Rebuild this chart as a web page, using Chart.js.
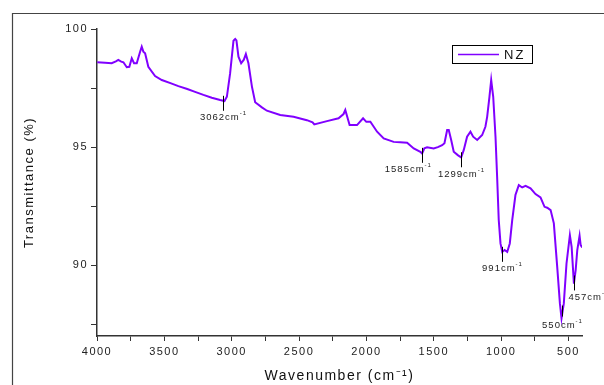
<!DOCTYPE html>
<html><head><meta charset="utf-8">
<script src="https://cdn.jsdelivr.net/npm/chart.js@4"></script>
<style>
html,body{margin:0;padding:0;background:#fff;}
#wrap{position:relative;width:604px;height:385px;overflow:hidden;}
canvas{position:absolute;left:0;top:0;}
</style></head><body>
<div id="wrap"><canvas id="c" width="604" height="385"></canvas></div>
<script>
const wavenumbers = [3998,3940,3891,3860,3842,3820,3804,3779,3760,3742,3725,3705,3680,3668,3656,3643,3619,3569,3519,3450,3396,3330,3272,3210,3148,3086,3054,3036,3012,2987,2974,2965,2950,2930,2910,2895,2876,2850,2826,2776,2739,2640,2541,2442,2400,2387,2293,2207,2170,2157,2125,2070,2025,2001,1971,1921,1872,1798,1750,1698,1649,1600,1587,1570,1550,1501,1470,1438,1421,1401,1389,1371,1352,1322,1297,1278,1253,1228,1208,1178,1141,1117,1104,1087,1074,1059,1042,1030,1018,1005,992,975,955,936,918,894,869,844,819,782,745,708,678,658,633,609,584,564,552,535,515,490,477,460,447,435,418,410,398];
const transmittance = [98.59,98.57,98.55,98.63,98.69,98.62,98.59,98.38,98.40,98.76,98.55,98.55,99.04,99.25,99.04,98.97,98.40,98.01,97.84,97.70,97.58,97.46,97.34,97.21,97.09,96.99,96.95,97.13,98.12,99.50,99.58,99.52,98.83,98.55,98.70,98.94,98.55,97.56,96.90,96.68,96.54,96.36,96.28,96.14,96.05,95.96,96.10,96.22,96.40,96.57,95.93,95.93,96.22,96.07,96.07,95.65,95.37,95.22,95.20,95.18,94.94,94.80,94.73,94.95,94.99,94.94,95.00,95.08,95.16,95.72,95.72,95.30,94.80,94.66,94.56,94.87,95.44,95.65,95.44,95.30,95.51,95.86,96.28,97.13,97.84,97.13,95.44,93.74,91.91,90.92,90.56,90.64,90.56,90.92,91.91,92.97,93.39,93.29,93.36,93.25,93.01,92.87,92.47,92.43,92.33,91.77,89.93,88.38,87.75,88.38,90.07,91.27,90.78,89.22,89.79,90.64,91.24,90.85,90.75];
const seriesName = 'NZ';
const xTickValues = [4000,3750,3500,3250,3000,2750,2500,2250,2000,1750,1500,1250,1000,750,500];
const xTickLabels = ['4000','','3500','','3000','','2500','','2000','','1500','','1000','','500'];
const yTickValues = [87.5,90,92.5,95,97.5,100];
const yTickLabels = ['','90','','95','','100'];
const peakWavenumbers = [3062,1585,1299,991,550,457];
const peakLabels = ['3062','1585','1299','991','550','457'];

const LINE_COLOR = '#8000ff';
const AXIS_COLOR = '#333333';
const FONT = 'Arial, "Liberation Sans", sans-serif';

function interp(wn){
  for(let i=0;i<wavenumbers.length-1;i++){
    const a=wavenumbers[i], b=wavenumbers[i+1];
    if((wn<=a && wn>=b)){
      const t=(a-wn)/(a-b);
      return transmittance[i]+(transmittance[i+1]-transmittance[i])*t;
    }
  }
  return transmittance[transmittance.length-1];
}

const spacingPlugin = {
  id:'spacing',
  beforeUpdate(chart){ chart.ctx.letterSpacing='1.5px'; },
  beforeDraw(chart){
    const ctx=chart.ctx;
    ctx.letterSpacing='1.5px';
    ctx.save();
    ctx.strokeStyle='#444';
    ctx.lineWidth=1.2;
    ctx.beginPath();
    ctx.moveTo(12.5,385); ctx.lineTo(12.5,13.5); ctx.lineTo(604,13.5);
    ctx.stroke();
    ctx.restore();
  }
};

const annotPlugin = {
  id:'annot',
  afterDatasetsDraw(chart){
    const ctx=chart.ctx, xs=chart.scales.x, ys=chart.scales.y, ca=chart.chartArea;
    ctx.save();
    ctx.letterSpacing='1px';
    const items=peakWavenumbers.map((wn,i)=>{
      const px=Math.round(xs.getPixelForValue(wn))+0.5;
      const py=ys.getPixelForValue(interp(wn));
      let labelY=py+17, t0=py-5, t1=py+10;
      if(labelY>ca.bottom-9){ labelY=py+9; t0=py-11; t1=py; }
      const main=peakLabels[i]+'cm';
      ctx.font='9.5px '+FONT;
      const w=ctx.measureText(main).width;
      ctx.font='6px '+FONT;
      const ws=ctx.measureText('-1').width;
      let x0=px-(w+ws)/2;
      if(x0+w+ws>ca.right+5){ x0=px-6; }
      return {px,py,labelY,t0,t1,main,w,ws,x0};
    });
    // avoid overlaps between labels on similar rows: shift left
    for(let i=items.length-2;i>=0;i--){
      const a=items[i], b=items[i+1];
      if(Math.abs(a.labelY-b.labelY)<12 && a.x0+a.w+a.ws>b.x0-6){
        a.x0=b.x0-6-a.w-a.ws;
      }
    }
    items.forEach(it=>{
      ctx.strokeStyle='#000'; ctx.lineWidth=1;
      ctx.beginPath(); ctx.moveTo(it.px,it.t0); ctx.lineTo(it.px,it.t1); ctx.stroke();
      ctx.fillStyle='#222';
      ctx.textBaseline='middle'; ctx.textAlign='left';
      ctx.font='9.5px '+FONT;
      ctx.fillText(it.main,it.x0,it.labelY);
      ctx.font='6px '+FONT;
      ctx.fillText('-1',it.x0+it.w,it.labelY-4);
    });
    // legend
    const ds=chart.data.datasets[0];
    const lx=ca.right-130, ly=ca.top+16;
    ctx.strokeStyle='#000'; ctx.lineWidth=1;
    ctx.strokeRect(Math.round(lx)+0.5,Math.round(ly)+0.5,80,18);
    ctx.strokeStyle=ds.borderColor; ctx.lineWidth=1.6;
    ctx.beginPath(); ctx.moveTo(lx+6,ly+9.5); ctx.lineTo(lx+47,ly+9.5); ctx.stroke();
    ctx.fillStyle='#111'; ctx.font='13px '+FONT; ctx.letterSpacing='2px';
    ctx.textAlign='left'; ctx.textBaseline='middle';
    ctx.fillText(ds.label,lx+52,ly+10);
    ctx.restore();
  }
};

new Chart(document.getElementById('c'),{
  type:'line',
  data:{datasets:[{label:seriesName,data:wavenumbers.map((w,i)=>({x:w,y:transmittance[i]})),borderColor:LINE_COLOR,borderWidth:2,pointRadius:0,tension:0,fill:false}]},
  options:{
    responsive:false,animation:false,devicePixelRatio:1,
    layout:{padding:{top:29,right:22,left:0,bottom:0}},
    plugins:{legend:{display:false},tooltip:{enabled:false}},
    scales:{
      x:{type:'linear',reverse:true,min:400,max:4000,
        afterBuildTicks(s){ s.ticks=xTickValues.map(v=>({value:v})); },
        afterFit(s){ s.height=49; },
        ticks:{autoSkip:false,maxRotation:0,padding:4,color:'#222',font:{family:FONT,size:11},
          callback:(v)=>{const k=xTickValues.indexOf(v);return k>=0?xTickLabels[k]:'';}},
        grid:{drawOnChartArea:false,drawTicks:true,tickLength:5,color:AXIS_COLOR,lineWidth:1},
        border:{display:true,color:AXIS_COLOR,width:1.5},
        title:{display:true,text:'Wavenumber (cm⁻¹)',color:'#111',font:{family:FONT,size:14},padding:{top:0,bottom:0}}
      },
      y:{type:'linear',min:87,max:100,
        afterBuildTicks(s){ s.ticks=yTickValues.map(v=>({value:v})); },
        afterFit(s){ s.width=97; },
        ticks:{autoSkip:false,padding:3,color:'#222',font:{family:FONT,size:11},
          callback:(v)=>{const k=yTickValues.indexOf(v);return k>=0?yTickLabels[k]:'';}},
        grid:{drawOnChartArea:false,drawTicks:true,tickLength:6,color:AXIS_COLOR,lineWidth:1},
        border:{display:true,color:AXIS_COLOR,width:1.5},
        title:{display:true,text:'Transmittance (%)',color:'#111',font:{family:FONT,size:13},padding:{top:22,bottom:0}}
      }
    }
  },
  plugins:[spacingPlugin,annotPlugin]
});
</script>
</body></html>
